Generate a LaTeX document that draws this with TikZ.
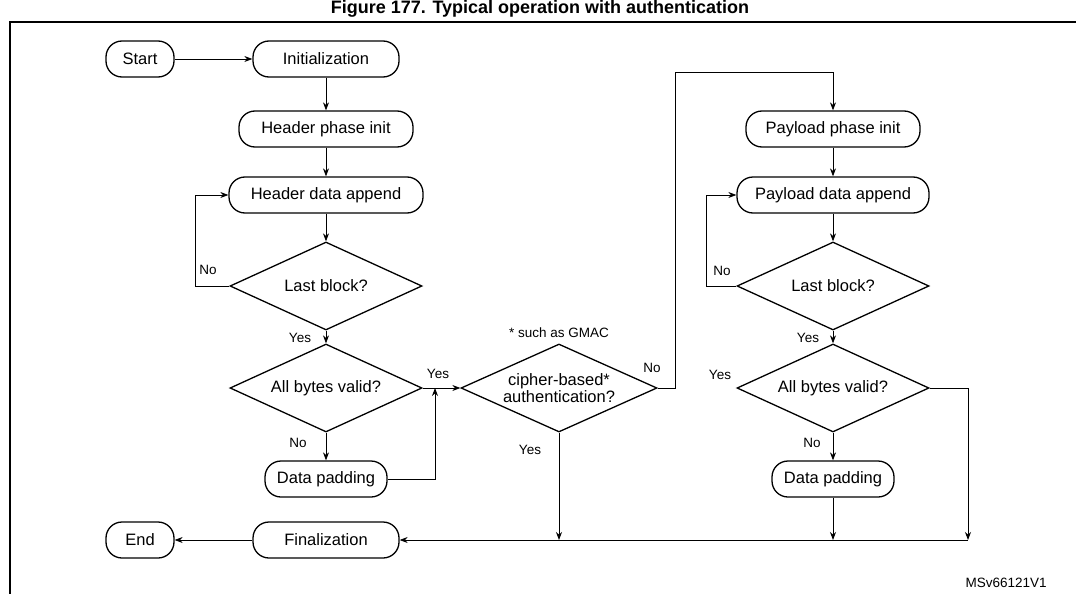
\documentclass[tikz,border=0pt]{standalone}
\usepackage{fontspec}
\setmainfont{Liberation Sans}
\usetikzlibrary{shapes.geometric,arrows.meta}
\tikzset{
	term/.style={draw, line width=1.3pt, rounded corners=16pt, minimum height=36pt, inner sep=2pt},
	cond/.style={draw, line width=1.3pt, diamond, aspect=2.15, inner sep=0pt, minimum width=192pt, minimum height=88pt, align=center},
	lbl/.style={font=\fontsize{13.5}{15}\selectfont},
	flow/.style={line width=0.8pt, -{Stealth[length=8pt,width=6pt]}}
}
\begin{document}
\begin{tikzpicture}[x=1pt, y=-1pt, font=\fontsize{16.5}{18}\selectfont]
	\useasboundingbox (0,0) rectangle (1076,594);
	% Frame and title
	\node (title) at (540,9) {\fontsize{18}{20}\selectfont\bfseries Figure 177. Typical operation with authentication};
	\draw [line width=1.3pt] (1080,22) -- (10,22) -- (10,600);
	% Header side
	\node [term, minimum width=68pt] (start) at (140,59) {Start};
	\node [term, minimum width=146pt] (init) at (326,59) {Initialization};
	\node [term, minimum width=174pt] (hinit) at (326,129) {Header phase init};
	\node [term, minimum width=194pt] (happ) at (326,195) {Header data append};
	\node [cond] (hlast) at (326,286) {Last block?};
	\node [cond] (hvalid) at (326,388) {All bytes valid?};
	\node [term, minimum width=122pt] (hpad) at (326,479) {Data padding};
	% Cipher decision
	\node [cond, minimum width=196pt, font=\fontsize{16.5}{17}\selectfont] (cipher) at (559,388) {cipher-based*\\authentication?};
	\node [lbl] (note) at (559,333) {* such as GMAC};
	% Payload side
	\node [term, minimum width=174pt] (pinit) at (833,129) {Payload phase init};
	\node [term, minimum width=192pt] (papp) at (833,195) {Payload data append};
	\node [cond] (plast) at (833,286) {Last block?};
	\node [cond] (pvalid) at (833,388) {All bytes valid?};
	\node [term, minimum width=122pt] (ppad) at (833,479) {Data padding};
	% Final
	\node [term, minimum width=146pt] (final) at (326,540) {Finalization};
	\node [term, minimum width=68pt] (end) at (140,540) {End};
	% Junctions
	\coordinate (jc) at (559,540);
	\coordinate (jp) at (833,540);
	\coordinate (jr) at (968,540);
	\coordinate (jh) at (435,388);
	% Connectors
	\draw [flow] (start) -- (init);
	\draw [flow] (init) -- (hinit);
	\draw [flow] (hinit) -- (happ);
	\draw [flow] (happ) -- (hlast);
	\draw [flow] (hlast.west) -- (195,286) -- (195,195) -- (happ.west);
	\draw [flow] (hlast) -- (hvalid);
	\draw [flow] (hvalid) -- (hpad);
	\draw [flow] (hpad.east) -| (jh);
	\draw [flow] (hvalid.east) -- (cipher.west);
	\draw [flow] (cipher.east) -- (675,388) -- (675,72) -- (833,72) -- (pinit.north);
	\draw [flow] (cipher.south) -- (jc);
	\draw [flow] (pinit) -- (papp);
	\draw [flow] (papp) -- (plast);
	\draw [flow] (plast.west) -- (706,286) -- (706,195) -- (papp.west);
	\draw [flow] (plast) -- (pvalid);
	\draw [flow] (pvalid) -- (ppad);
	\draw [flow] (ppad) -- (jp);
	\draw [flow] (pvalid.east) -| (jr);
	\draw [flow] (jr) -- (final.east);
	\draw [flow] (final) -- (end);
	% Labels
	\node [lbl] (n1) at (208,270) {No};
	\node [lbl] (y1) at (300,338) {Yes};
	\node [lbl] (n2) at (298,443) {No};
	\node [lbl] (y2) at (438,374) {Yes};
	\node [lbl] (n3) at (652,368) {No};
	\node [lbl] (y3) at (530,450) {Yes};
	\node [lbl] (n4) at (722,271) {No};
	\node [lbl] (y4) at (808,338) {Yes};
	\node [lbl] (y5) at (720,375) {Yes};
	\node [lbl] (n5) at (812,443) {No};
	\node [lbl, anchor=west] (code) at (962,583) {MSv66121V1};
\end{tikzpicture}
\end{document}
